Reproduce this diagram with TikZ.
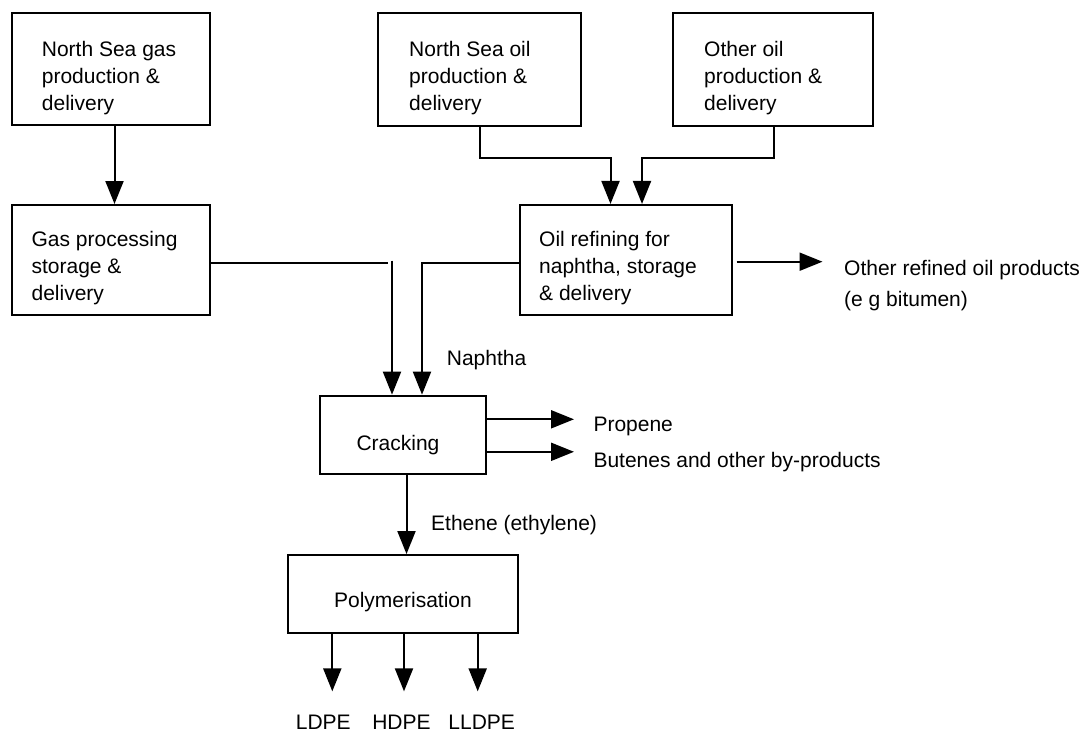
\documentclass[tikz,border=0pt]{standalone}
\usepackage{fontspec}
\setmainfont{Liberation Sans}
\usetikzlibrary{arrows.meta,calc}
\begin{document}
\begin{tikzpicture}[x=1pt,y=-1pt,
  box/.style={draw, line width=2pt, inner sep=0pt, rectangle},
  txt/.style={inner sep=0pt, align=left, font=\fontsize{21}{27}\selectfont},
  arr/.style={line width=2pt, -{Triangle[length=23pt,width=18pt]}},
  ln/.style={line width=2pt}]
\useasboundingbox (0,0) rectangle (1091,733);
% boxes
\node[box, minimum width=198pt, minimum height=111.7pt] (b1) at (111,69.2) {};
\node[box, minimum width=203pt, minimum height=112.4pt] (b2) at (479.5,69.5) {};
\node[box, minimum width=200pt, minimum height=112.4pt] (b3) at (772.7,69.5) {};
\node[box, minimum width=198pt, minimum height=110pt] (b4) at (111,260) {};
\node[box, minimum width=212pt, minimum height=110.5pt] (b5) at (626,260.2) {};
\node[box, minimum width=166pt, minimum height=78.3pt] (crack) at (403,434.8) {};
\node[box, minimum width=230.5pt, minimum height=78.3pt] (poly) at (403,594.2) {};
% box texts
\node[txt, anchor=north west] (t1) at ($(b1.north west)+(30.7,28.5)$) {North Sea gas\\production \&\\delivery};
\node[txt, anchor=north west] (t2) at ($(b2.north west)+(32,29)$) {North Sea oil\\production \&\\delivery};
\node[txt, anchor=north west] (t3) at ($(b3.north west)+(32.3,28.7)$) {Other oil\\production \&\\delivery};
\node[txt, anchor=north west] (t4) at ($(b4.north west)+(20.4,27.3)$) {Gas processing\\storage \&\\delivery};
\node[txt, anchor=north west] (t5) at ($(b5.north west)+(20,27)$) {Oil refining for\\naphtha, storage\\\& delivery};
\node[txt, anchor=base] (tc) at (398,450) {Cracking};
\node[txt, anchor=base] (tp) at (403,607.3) {Polymerisation};
% free labels
\node[txt, anchor=base west] (naph) at (446.7,365.7) {Naphtha};
\node[txt, anchor=base west] (prop) at (593.3,431.7) {Propene};
\node[txt, anchor=base west] (but) at (593.3,467) {Butenes and other by-products};
\node[txt, anchor=base west] (eth) at (431,530) {Ethene (ethylene)};
\node[txt, anchor=north west, font=\fontsize{21}{31}\selectfont] (other) at (844,260) {Other refined oil products\\(e g bitumen)};
\node[txt, anchor=base] (ldpe) at (323.3,729) {LDPE};
\node[txt, anchor=base] (hdpe) at (401.5,729) {HDPE};
\node[txt, anchor=base] (lldpe) at (481.7,729) {LLDPE};
% connectors
\draw[arr] ([xshift=3.5pt]b1.south) -- ([xshift=3.5pt]b4.north);
\draw[arr] (b2.south) -- ++(0,31.5) -| ([xshift=-15.5pt]b5.north);
\draw[arr] ([xshift=1.6pt]b3.south) -- ++(0,31.5) -| ([xshift=16pt]b5.north);
\draw[ln] ([yshift=-2.5pt]b4.east) -- ++(177,0);
\draw[arr] ($(crack.north)+(-11,-134)$) -- ([xshift=-11pt]crack.north);
\draw[arr] ([yshift=-2.5pt]b5.west) -| ([xshift=19pt]crack.north);
\draw[arr] ([xshift=3.5pt,yshift=-1.5pt]b5.east) -- ++(86,0);
\draw[arr] ([yshift=15.5pt]crack.east) -- ++(87,0);
\draw[arr] ([yshift=-17pt]crack.east) -- ++(87,0);
\draw[arr] ([xshift=3.5pt]crack.south) -- ([xshift=3.5pt]poly.north);
\draw[arr] ([xshift=-70.7pt]poly.south) -- ++(0,57);
\draw[arr] ([xshift=1pt]poly.south) -- ++(0,57);
\draw[arr] ([xshift=74.7pt]poly.south) -- ++(0,57);
\end{tikzpicture}
\end{document}
